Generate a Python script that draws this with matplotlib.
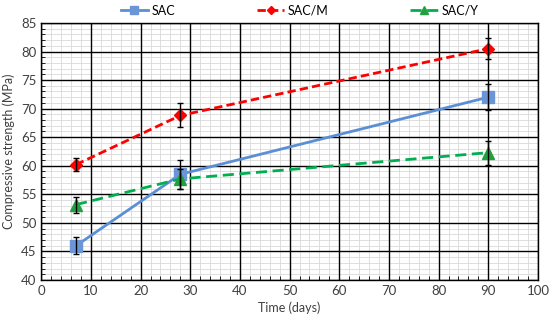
import matplotlib.pyplot as plt
from matplotlib.ticker import MultipleLocator

plt.rcParams['font.family'] = ['Lato', 'DejaVu Sans']

days = [7, 28, 90]

sac = [46.0, 58.5, 72.0]
sac_err = [1.5, 2.5, 2.3]

sac_m = [60.2, 68.8, 80.5]
sac_m_err = [1.2, 2.1, 1.8]

sac_y = [53.2, 57.7, 62.3]
sac_y_err = [1.4, 1.8, 2.1]


def main():
    fig = plt.figure(figsize=(5.5, 3.23), dpi=100)
    ax = fig.add_axes([0.075, 0.133, 0.903, 0.796])

    # lines + markers
    ax.plot(days, sac, color="#5b8fd5", lw=2, marker="s", ms=8,
            mfc="#6a96d8", mec="#6a96d8", label="SAC", zorder=4)
    ax.plot(days, sac_m, color="#ff0000", lw=2, ls=(0, (3, 1.5)), marker="D",
            ms=6, label="SAC/M", zorder=4)
    ax.plot(days, sac_y, color="#00b050", lw=2, ls=(0, (4, 2)), marker="^",
            ms=8, mfc="#22a040", mec="#22a040", label="SAC/Y", zorder=4)

    # error bars
    for vals, err in [(sac, sac_err), (sac_m, sac_m_err), (sac_y, sac_y_err)]:
        ax.errorbar(days, vals, yerr=err, fmt="none", ecolor="black",
                    elinewidth=1, capsize=2, zorder=5)

    ax.set_xlim(0, 100)
    ax.set_ylim(40, 85)
    ax.xaxis.set_major_locator(MultipleLocator(10))
    ax.xaxis.set_minor_locator(MultipleLocator(2))
    ax.yaxis.set_major_locator(MultipleLocator(5))
    ax.yaxis.set_minor_locator(MultipleLocator(1))
    ax.grid(which="minor", color="#d9d9d9", lw=0.6)
    ax.set_axisbelow(True)
    # major grid drawn above the minor one
    ax.vlines(ax.get_xticks(), 40, 85, color="black", lw=1, zorder=1.5)
    ax.hlines(ax.get_yticks(), 0, 100, color="black", lw=1, zorder=1.5)

    ax.tick_params(which="both", direction="in", labelsize=9.5, colors="#404040")
    ax.tick_params(which="major", length=0)
    ax.tick_params(which="minor", length=3, color="black")
    for s in ax.spines.values():
        s.set_color("black")
        s.set_linewidth(1)

    ax.set_xlabel("Time (days)", fontsize=9, color="#404040", labelpad=3)
    ax.set_ylabel("Compressive strength (MPa)", fontsize=9, color="#404040", labelpad=4)

    ax.legend(loc="lower center", bbox_to_anchor=(0.52, 1.0), ncol=3, frameon=False,
              fontsize=9, columnspacing=6.5, handlelength=2.2, handletextpad=0.3,
              markerscale=0.75, borderaxespad=0.1)

    fig.savefig("out.png", dpi=100)


if __name__ == "__main__":
    main()
